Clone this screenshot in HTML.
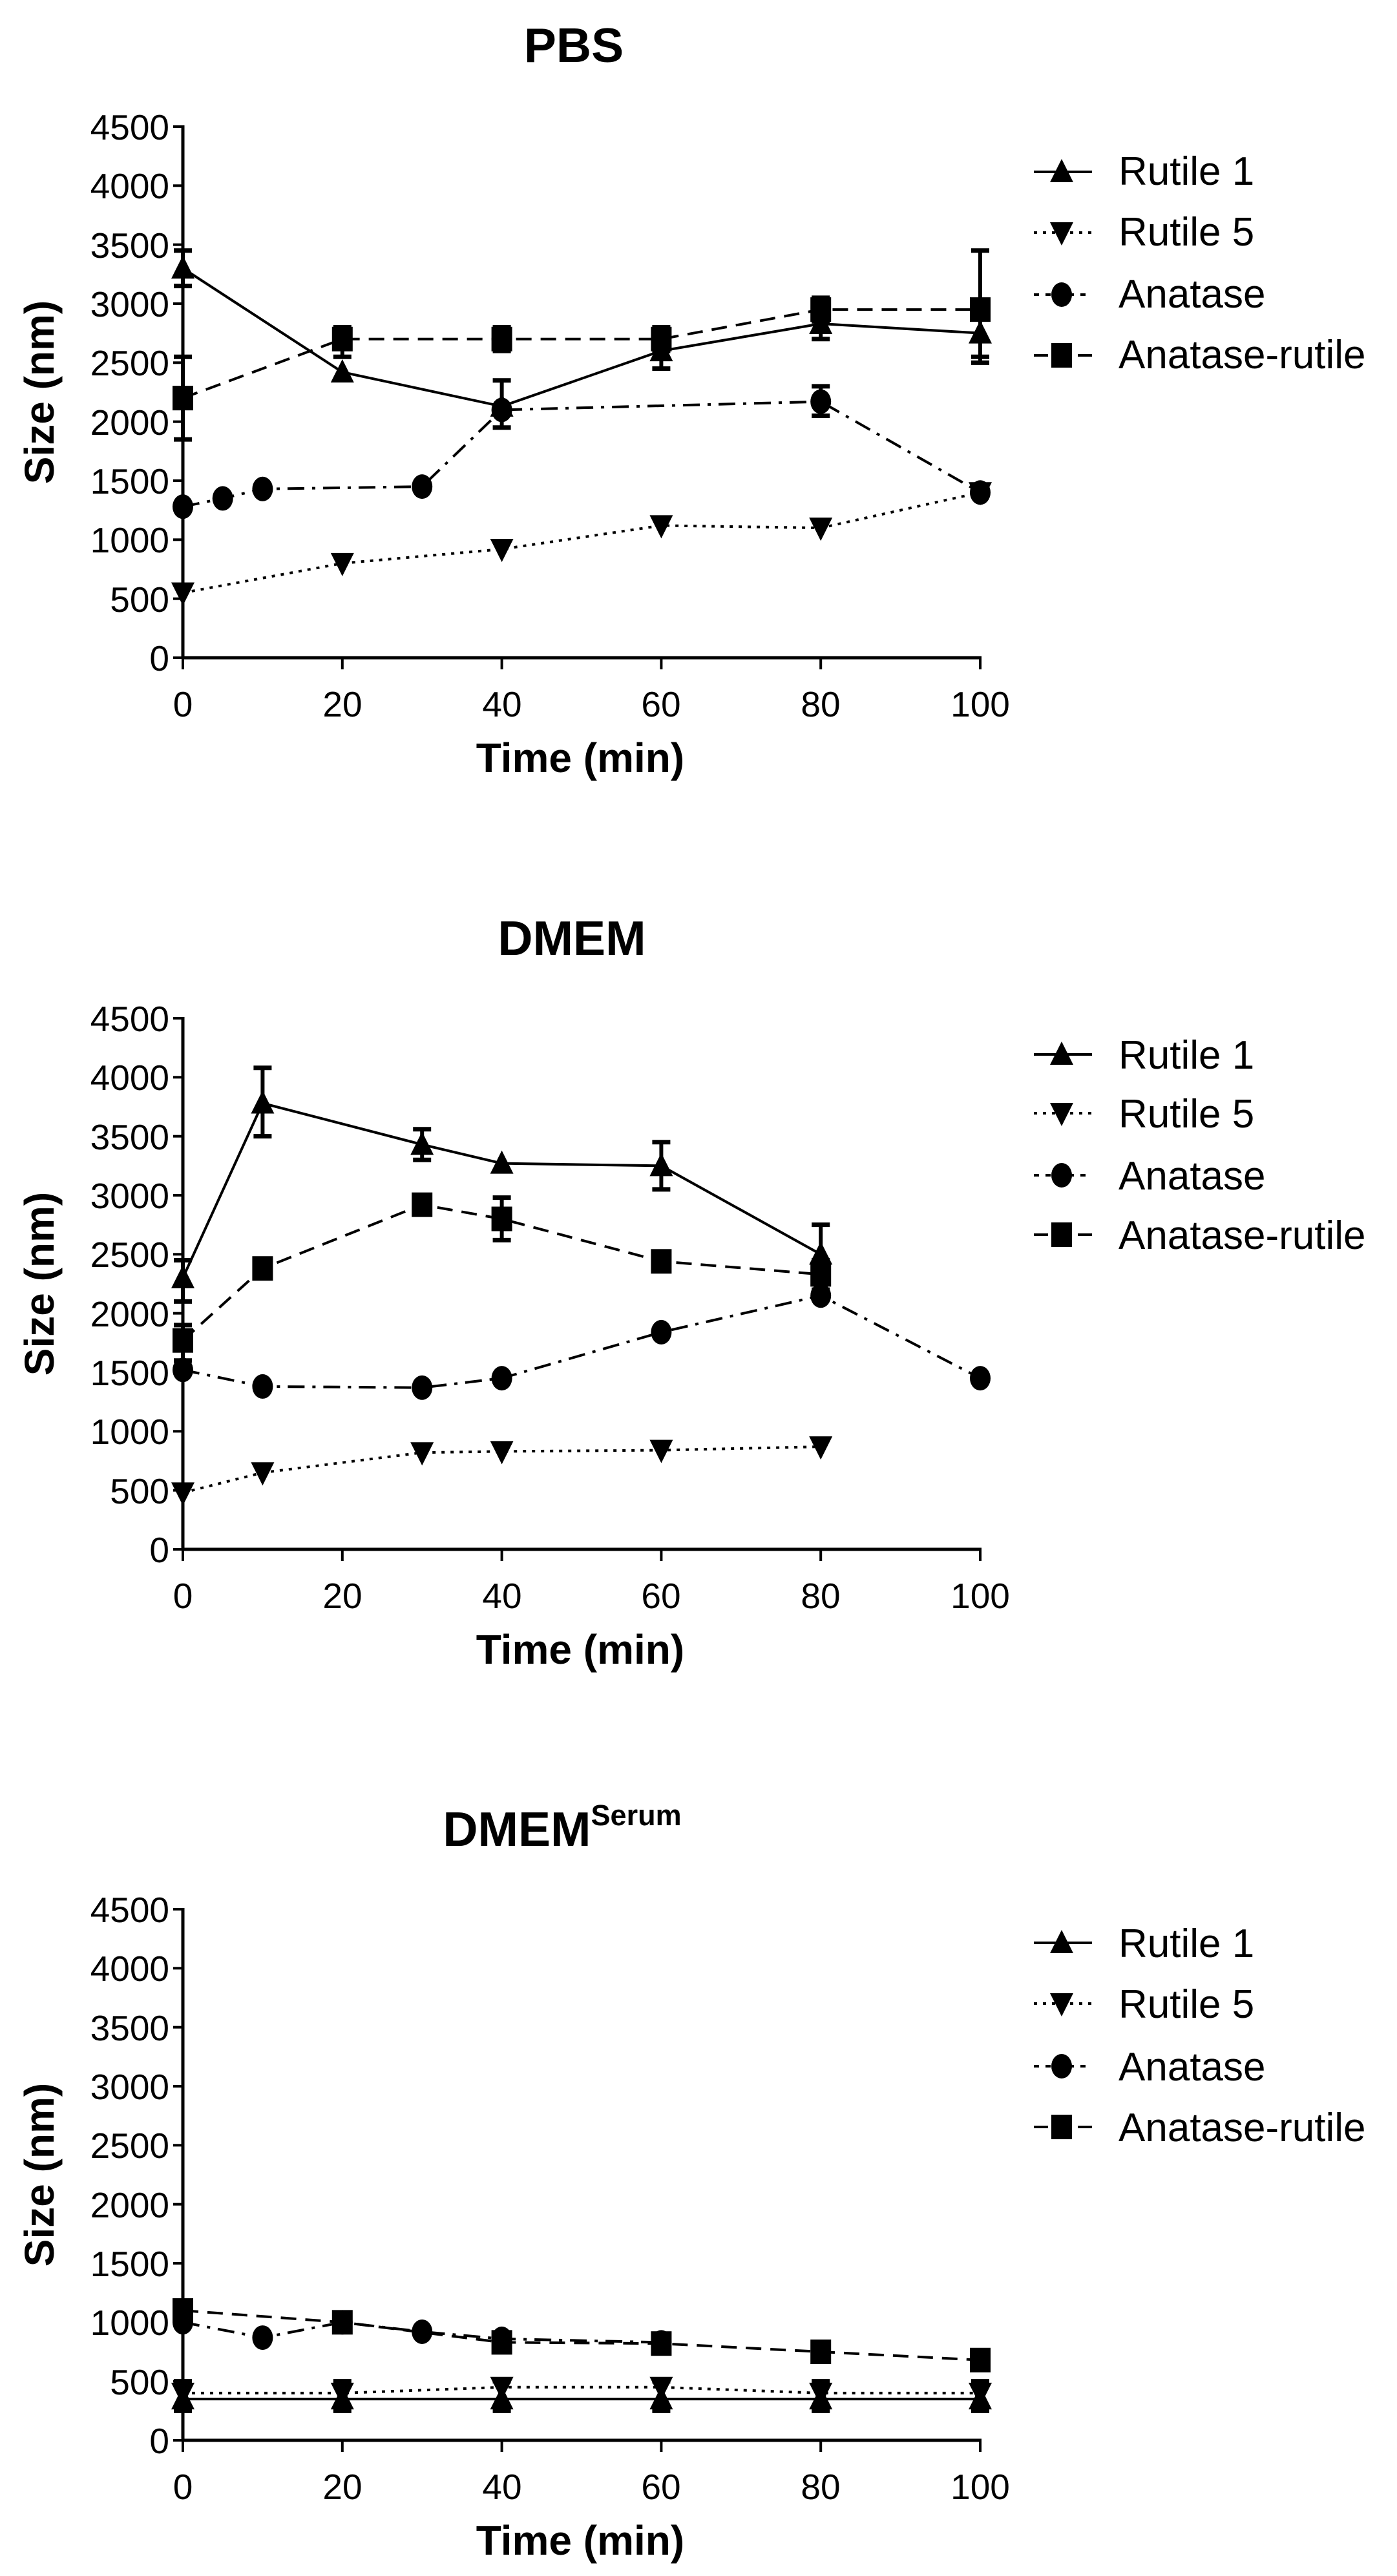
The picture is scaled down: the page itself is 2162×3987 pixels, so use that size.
<!DOCTYPE html>
<html><head><meta charset="utf-8"><style>
html,body{margin:0;padding:0;background:#fff;}
svg{display:block;font-family:"Liberation Sans",Arial,sans-serif;}
</style></head><body>
<svg id="s" width="2162" height="3987" viewBox="0 0 2162 3987" xmlns="http://www.w3.org/2000/svg">
<rect width="2162" height="3987" fill="#fff"/>
<g font-size="55" fill="#000" text-anchor="end">
<!-- chart1 ticks -->
<text x="262" y="216">4500</text><text x="262" y="307">4000</text><text x="262" y="399">3500</text><text x="262" y="490">3000</text><text x="262" y="581">2500</text><text x="262" y="673">2000</text><text x="262" y="764">1500</text><text x="262" y="855">1000</text><text x="262" y="947">500</text><text x="262" y="1038">0</text>
<text x="262" y="1596">4500</text><text x="262" y="1687">4000</text><text x="262" y="1779">3500</text><text x="262" y="1870">3000</text><text x="262" y="1961">2500</text><text x="262" y="2053">2000</text><text x="262" y="2144">1500</text><text x="262" y="2235">1000</text><text x="262" y="2327">500</text><text x="262" y="2418">0</text>
<text x="262" y="2975">4500</text><text x="262" y="3066">4000</text><text x="262" y="3158">3500</text><text x="262" y="3249">3000</text><text x="262" y="3340">2500</text><text x="262" y="3432">2000</text><text x="262" y="3523">1500</text><text x="262" y="3614">1000</text><text x="262" y="3706">500</text><text x="262" y="3797">0</text>
</g>
<g font-size="55" fill="#000" text-anchor="middle">
<text x="283" y="1109">0</text><text x="530" y="1109">20</text><text x="777" y="1109">40</text><text x="1023" y="1109">60</text><text x="1270" y="1109">80</text><text x="1517" y="1109">100</text>
<text x="283" y="2489">0</text><text x="530" y="2489">20</text><text x="777" y="2489">40</text><text x="1023" y="2489">60</text><text x="1270" y="2489">80</text><text x="1517" y="2489">100</text>
<text x="283" y="3868">0</text><text x="530" y="3868">20</text><text x="777" y="3868">40</text><text x="1023" y="3868">60</text><text x="1270" y="3868">80</text><text x="1517" y="3868">100</text>
</g>
<g font-size="64" font-weight="bold" fill="#000" text-anchor="middle">
<text x="898" y="1195">Time (min)</text>
<text x="898" y="2575">Time (min)</text>
<text x="898" y="3954">Time (min)</text>
<text transform="translate(83,607) rotate(-90)">Size (nm)</text>
<text transform="translate(83,1987) rotate(-90)">Size (nm)</text>
<text transform="translate(83,3366) rotate(-90)">Size (nm)</text>
</g>
<g font-size="75" font-weight="bold" fill="#000" text-anchor="middle">
<text x="888" y="96">PBS</text>
<text x="885" y="1478">DMEM</text>
<text x="870" y="2857">DMEM<tspan font-size="45" dy="-32">Serum</tspan></text>
</g>
<g font-size="62" fill="#000">
<text x="1731" y="286">Rutile 1</text><text x="1731" y="380">Rutile 5</text><text x="1731" y="476">Anatase</text><text x="1731" y="570">Anatase-rutile</text>
<text x="1731" y="1654">Rutile 1</text><text x="1731" y="1745">Rutile 5</text><text x="1731" y="1841">Anatase</text><text x="1731" y="1933">Anatase-rutile</text>
<text x="1731" y="3029">Rutile 1</text><text x="1731" y="3123">Rutile 5</text><text x="1731" y="3220">Anatase</text><text x="1731" y="3314">Anatase-rutile</text>
</g>
<g id="g"></g>
</svg>
<script>
var g=document.getElementById('g'),NS='http://www.w3.org/2000/svg';
function el(n,a){var e=document.createElementNS(NS,n);for(var k in a)e.setAttribute(k,a[k]);g.appendChild(e);return e;}
var styles=[{d:'none'},{d:'5,9'},{d:'26,12,5,12'},{d:'24,14'}];
function marker(k,x,y){var s=18;
 if(k==0)el('polygon',{points:(x)+','+(y-s-2)+' '+(x-s)+','+(y+s-2)+' '+(x+s)+','+(y+s-2),fill:'#000'});
 else if(k==1)el('polygon',{points:(x)+','+(y+s+2)+' '+(x-s)+','+(y-s+2)+' '+(x+s)+','+(y-s+2),fill:'#000'});
 else if(k==2)el('ellipse',{cx:x,cy:y,rx:16,ry:19,fill:'#000'});
 else el('rect',{x:x-16,y:y-19,width:32,height:38,fill:'#000'});}
function chart(top,data,leg){
 var X=function(t){return 283+t*12.34},Y=function(v){return top+822-v*822/4500};
 el('line',{x1:283,y1:top-2,x2:283,y2:top+824,stroke:'#000','stroke-width':5});
 el('line',{x1:281,y1:top+822,x2:1519,y2:top+822,stroke:'#000','stroke-width':5});
 for(var i=0;i<=9;i++){var y=top+i*91.33;el('line',{x1:268,y1:y,x2:283,y2:y,stroke:'#000','stroke-width':4});}
 for(var i=0;i<=5;i++){var x=X(i*20);el('line',{x1:x,y1:top+822,x2:x,y2:top+840,stroke:'#000','stroke-width':4});}
 data.forEach(function(s,k){
  var p=s.map(function(q){return X(q[0])+','+Y(q[1])}).join(' ');
  var a={points:p,fill:'none',stroke:'#000','stroke-width':4};if(k)a['stroke-dasharray']=styles[k].d;
  el('polyline',a);
  s.forEach(function(q){if(q[2]!=null){var x=X(q[0]);el('line',{x1:x,y1:Y(q[2]),x2:x,y2:Y(q[3]),stroke:'#000','stroke-width':6});
   el('line',{x1:x-14,y1:Y(q[2]),x2:x+14,y2:Y(q[2]),stroke:'#000','stroke-width':7});
   el('line',{x1:x-14,y1:Y(q[3]),x2:x+14,y2:Y(q[3]),stroke:'#000','stroke-width':7});}
   marker(k,X(q[0]),Y(q[1]));});
 });
 leg.forEach(function(ly,k){var a={x1:1600,y1:ly,x2:1690,y2:ly,stroke:'#000','stroke-width':4};if(k)a['stroke-dasharray']=k==1?'5,9':k==2?'8,10':'22,12';
  el('line',a);marker(k,1643,ly);});
}
chart(196,[
 [[0,3300,3150,3450],[20,2420],[40,2130],[60,2600,2450,2750],[80,2830,2700,2980],[100,2750,2550,2900]],
 [[0,550],[20,800],[40,920],[60,1120],[80,1100],[100,1400]],
 [[0,1280],[5,1350],[10,1430],[30,1450],[40,2100,1950,2350],[80,2170,2050,2300],[100,1400]],
 [[0,2200,1850,2550],[20,2700,2550,2800],[40,2700,2600,2800],[60,2700,2600,2800],[80,2950,2850,3050],[100,2950,2500,3450]]
],[266,360,456,550]);
chart(1576,[
 [[0,2300,2100,2450],[10,3780,3500,4080],[30,3430,3300,3560],[40,3270],[60,3250,3050,3450],[80,2500,2200,2750]],
 [[0,480],[10,650],[30,820],[40,830],[60,840],[80,870]],
 [[0,1520],[10,1380],[30,1370],[40,1450],[60,1840],[80,2150],[100,1450]],
 [[0,1770,1600,1900],[10,2380],[30,2920],[40,2800,2620,2980],[60,2440],[80,2330,2150,2450]]
],[1632,1723,1819,1911]);
chart(2955,[
 [[0,350,250,500],[20,350,250,500],[40,350,250,500],[60,350,250,500],[80,350,250,500],[100,350,250,500]],
 [[0,400],[20,400],[40,450],[60,450],[80,400],[100,400]],
 [[0,1000],[10,870],[20,1000],[30,920],[40,860],[60,830]],
 [[0,1100],[20,1000],[40,830],[60,820],[80,750],[100,680]]
],[3007,3101,3198,3292]);
</script>
</body></html>
